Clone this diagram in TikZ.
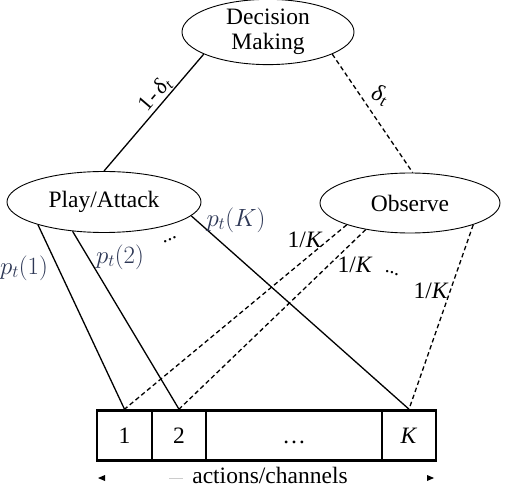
\documentclass[tikz,border=0pt]{standalone}
\usepackage{fontspec}
\setmainfont{Liberation Serif}
\usetikzlibrary{shapes.geometric}
\definecolor{plab}{RGB}{45,55,85}
\begin{document}
\begin{tikzpicture}[x=1pt,y=-1pt,
  font=\fontsize{23.5}{25.5}\selectfont,
  ell/.style={draw,ellipse,line width=0.9pt,inner sep=0pt,align=center},
  cell/.style={draw,line width=2.6pt,minimum height=50pt,inner sep=0pt,text height=15.9pt,text depth=0pt},
  conn/.style={line width=1.3pt},
  dconn/.style={line width=1.3pt,dash pattern=on 4.5pt off 3pt},
  plabel/.style={text=plab,inner sep=0pt},
  klabel/.style={inner sep=0pt},
  dotlab/.style={inner sep=0pt,font=\fontsize{20}{20}\selectfont}]
\useasboundingbox (0,0) rectangle (506,486);

\node[ell,minimum width=172pt,minimum height=61pt] (dm) at (268,32) {Decision\\Making};
\node[ell,minimum width=194pt,minimum height=61pt] (play) at (104,202) {Play/Attack};
\node[ell,minimum width=180pt,minimum height=60pt] (obs) at (410,203) {Observe};

\node[cell,minimum width=55pt] (c1) at (124.5,435.5) {1};
\node[cell,minimum width=54pt] (c2) at (179,435.5) {2};
\node[cell,minimum width=176pt] (cd) at (294,435.5) {…};
\node[cell,minimum width=54pt] (cK) at (409,435.5) {\textit{K}};

\draw[conn] (dm.199) -- node[pos=0.40,sloped,above,inner sep=1pt,font=\fontsize{22}{22}\selectfont] (l1) {1-\,\textit{δ}\textsubscript{\textit{t}}} (play.90);
\draw[dconn] (dm.341) -- (obs.85);

\draw[conn] (play.199) -- (c1.north);
\draw[conn] (play.223) -- (c2.north);
\draw[conn] (play.351) -- (cK.north);

\draw[dconn] (obs.199) -- (c1.north);
\draw[dconn] (obs.211) -- (c2.north);
\draw[dconn] (obs.341) -- (cK.north);

\node[klabel,rotate=-20] (l2) at (380,95) {\textit{δ}\textsubscript{\textit{t}}};

\node[plabel] (p1) at (24,268) {$p_t(1)$};
\node[plabel] (p2) at (120,257) {$p_t(2)$};
\node[plabel] (pK) at (236,220) {$p_t(K)$};
\node[dotlab,rotate=23] (d1) at (170,240) {...};

\node[klabel] (k1) at (305,240) {1/\textit{K}};
\node[klabel] (k2) at (355,265) {1/\textit{K}};
\node[klabel] (k3) at (431,291) {1/\textit{K}};
\node[dotlab,rotate=-22] (d2) at (392,273) {...};

\node[inner sep=0pt,anchor=base] (ac) at (270,483) {actions/channels};
\coordinate (al) at (98,478);
\coordinate (ar) at (434,478);
\fill (al) -- ++(7,-3) -- ++(0,6) -- cycle;
\fill (ar) -- ++(-7,-3) -- ++(0,6) -- cycle;
\draw[gray!40,line width=0.8pt] ([xshift=-23pt]ac.west |- al) -- ([xshift=-9pt]ac.west |- al);
\end{tikzpicture}
\end{document}
